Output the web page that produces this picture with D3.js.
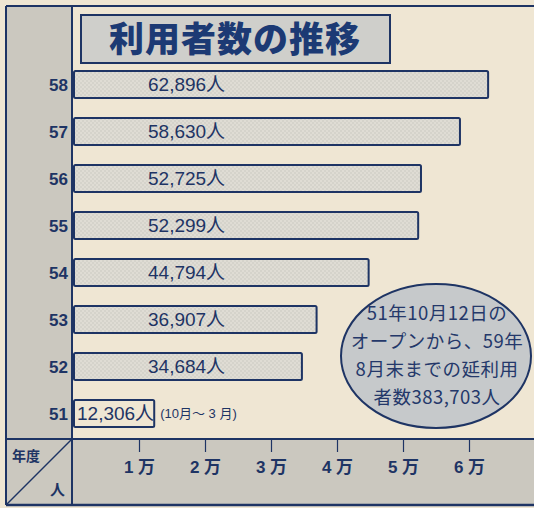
<!DOCTYPE html>
<html><head><meta charset="utf-8">
<script src="https://cdn.jsdelivr.net/npm/d3@7"></script>
<style>
html,body{margin:0;padding:0;background:#efe6d3;}
svg{display:block;}
</style></head>
<body>
<script>
const titleText = "利用者数の推移";
const years = ["58","57","56","55","54","53","52","51"];
const users = [62896,58630,52725,52299,44794,36907,34684,12306];
const tickValues = [10000,20000,30000,40000,50000,60000];
const tickLabels = ["1 万","2 万","3 万","4 万","5 万","6 万"];
const firstYearNote = "(10月～ 3 月)";
const noteLines = ["51年10月12日の","オープンから、59年","8月末までの延利用","者数383,703人"];
const cornerLabels = ["年度","人"];

const W = 534, H = 508;
const ink = "#1e3464";
const beige = "#efe6d3";
const gray = "#cbc8bf";
const svg = d3.select("body").append("svg").attr("width", W).attr("height", H);

const defs = svg.append("defs");
const pat = defs.append("pattern").attr("id","dots").attr("patternUnits","userSpaceOnUse")
  .attr("width",4).attr("height",4);
pat.append("rect").attr("width",4).attr("height",4).attr("fill","#d5d3cb");
pat.append("circle").attr("cx",1).attr("cy",1).attr("r",0.8).attr("fill","#ecE9e1");
pat.append("circle").attr("cx",3).attr("cy",3).attr("r",0.8).attr("fill","#ece9e1");

const plotTop = 6, axisTop = 439, bottom = 505, leftEdge = 6, colX = 72;

// backgrounds
svg.append("rect").attr("x",0).attr("y",0).attr("width",W).attr("height",H).attr("fill",beige);
svg.append("rect").attr("x",leftEdge).attr("y",plotTop).attr("width",colX-leftEdge).attr("height",bottom-plotTop).attr("fill",gray);
svg.append("rect").attr("x",colX).attr("y",axisTop).attr("width",W-colX).attr("height",bottom-axisTop).attr("fill",gray);

const x = d3.scaleLinear().domain([0,60000]).range([73,469]);
const y = d3.scaleBand().domain(years).range([61,437]).paddingInner(0.43).paddingOuter(0.215);

// title box
svg.append("rect").attr("x",81).attr("y",15).attr("width",309).attr("height",48)
  .attr("fill","#cfcfcb").attr("stroke",ink).attr("stroke-width",2);
svg.append("text").attr("x",235).attr("y",39).attr("dy","0.36em").attr("text-anchor","middle")
  .attr("font-family","'Noto Sans CJK JP'").attr("font-weight",900).attr("font-size",35)
  .attr("fill","#1c3a74").attr("letter-spacing",1).text(titleText);

// bars
const data = years.map((yr,i)=>({yr, v:users[i]}));
svg.append("g").selectAll("rect").data(data).join("rect")
  .attr("x", x(0)+1).attr("y", d=>y(d.yr))
  .attr("width", d=>x(d.v)-x(0)-1).attr("height", y.bandwidth())
  .attr("rx",1.5)
  .attr("fill", d=>d.yr==="51" ? "none" : "url(#dots)")
  .attr("stroke", ink).attr("stroke-width",2);

// value labels
const fmt = d3.format(",");
svg.append("g").selectAll("text").data(data).join("text")
  .attr("x", d=>d.yr==="51" ? x(0)+4 : 148)
  .attr("y", d=>y(d.yr)+y.bandwidth()/2).attr("dy","0.36em")
  .attr("font-family","'Liberation Sans', 'Noto Sans CJK JP'").attr("font-size",19)
  .attr("fill",ink).text(d=>fmt(d.v)+"人");
svg.append("text").attr("x", x(users[7])+6).attr("y", y("51")+y.bandwidth()/2).attr("dy","0.36em")
  .attr("font-family","'Liberation Sans', 'Noto Sans CJK JP'").attr("font-size",13)
  .attr("fill",ink).text(firstYearNote);

// year labels
svg.append("g").selectAll("text").data(years).join("text")
  .attr("x", 68).attr("y", d=>y(d)+y.bandwidth()/2).attr("dy","0.36em")
  .attr("text-anchor","end").attr("font-family","'Liberation Sans'").attr("font-weight","bold")
  .attr("font-size",17).attr("fill",ink).text(d=>d);

// axis
const ax = svg.append("g").attr("transform",`translate(0,${axisTop})`)
  .call(d3.axisBottom(x).tickValues(tickValues).tickSize(13).tickPadding(9)
    .tickFormat((d,i)=>tickLabels[i]));
ax.select(".domain").remove();
ax.selectAll(".tick line").attr("stroke",ink).attr("stroke-width",1.2);
ax.selectAll(".tick text").attr("fill",ink).attr("font-size",17).attr("font-weight","bold")
  .attr("font-family","'Liberation Sans', 'Noto Sans CJK JP'");

// frame lines
const L = (x1,y1,x2,y2,w)=>svg.append("line").attr("x1",x1).attr("y1",y1).attr("x2",x2).attr("y2",y2)
  .attr("stroke",ink).attr("stroke-width",w||2);
L(leftEdge,plotTop,W,plotTop,2);
L(leftEdge,plotTop,leftEdge,bottom,2);
L(colX,plotTop,colX,bottom,2);
L(leftEdge,axisTop,W,axisTop,2);
L(leftEdge,bottom,W,bottom,2.5);
L(leftEdge,bottom,colX,axisTop,1.5);
svg.append("text").attr("x",12).attr("y",456).attr("dy","0.36em")
  .attr("font-family","'Noto Sans CJK JP'").attr("font-weight","bold").attr("font-size",14)
  .attr("fill",ink).text(cornerLabels[0]);
svg.append("text").attr("x",50).attr("y",490).attr("dy","0.36em")
  .attr("font-family","'Noto Sans CJK JP'").attr("font-weight","bold").attr("font-size",15)
  .attr("fill",ink).text(cornerLabels[1]);

// note ellipse
svg.append("ellipse").attr("cx",436).attr("cy",356).attr("rx",95).attr("ry",72)
  .attr("fill","#c6c9cb").attr("stroke",ink).attr("stroke-width",2);
svg.append("g").selectAll("text").data(noteLines).join("text")
  .attr("x",437).attr("y",(d,i)=>313+i*28).attr("dy","0.36em").attr("text-anchor","middle")
  .attr("font-family","'Noto Sans CJK JP'").attr("font-size",18.5).attr("letter-spacing",0.5)
  .attr("fill","#24386a")
  .text(d=>d);
</script>
</body></html>
